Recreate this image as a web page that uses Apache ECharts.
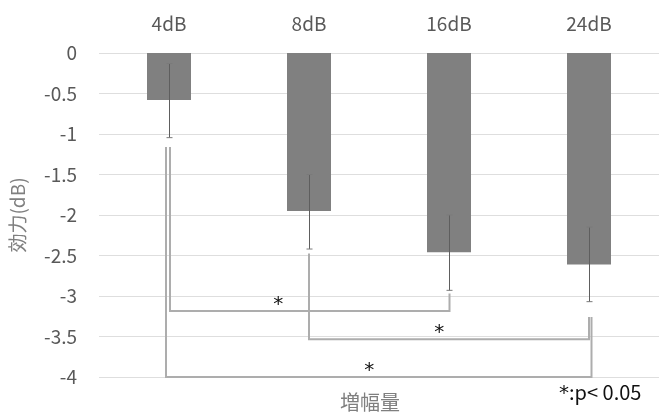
<!DOCTYPE html>
<html>
<head>
<meta charset="utf-8">
<script src="https://cdn.jsdelivr.net/npm/echarts@6/dist/echarts.min.js"></script>
<style>html,body{margin:0;padding:0;background:#fff}#c{width:659px;height:416px}</style>
</head>
<body>
<div id="c"></div>
<script>
// ---- data ----
var categories = ['4dB', '8dB', '16dB', '24dB'];
var effect = [-0.58, -1.95, -2.46, -2.61];
var errHigh = [-0.13, -1.50, -2.00, -2.15];
var errLow = [-1.045, -2.42, -2.93, -3.07];
var yTicks = [0, -0.5, -1, -1.5, -2, -2.5, -3, -3.5, -4];
// brackets: [fromIndex, toIndex, fromTopValue, levelValue, toTopValue]
var brackets = [
  [0, 2, -1.16, -3.185, -2.97],
  [1, 3, -2.475, -3.535, -3.26],
  [0, 3, -1.16, -4.0, -3.26]
];
// significance stars: [category position, value]
var stars = [
  [0.78, -3.05],
  [1.93, -3.39],
  [1.43, -3.86]
];

var FONT = '"Noto Sans CJK JP", "Noto Sans", sans-serif';
var chart = echarts.init(document.getElementById('c'));

var bracketOffsets = [[1, 0.5], [0, 0], [-3, 2.5]];

function catX(api, pos, v) {
  var a = api.coord([0, v]), b = api.coord([1, v]);
  return a[0] + pos * (b[0] - a[0]);
}

chart.setOption({
  animation: false,
  grid: { left: 99, right: -4, top: 53, bottom: 39, containLabel: false },
  xAxis: {
    type: 'category',
    position: 'top',
    data: categories,
    axisLine: { show: false },
    axisTick: { show: false },
    axisLabel: { color: '#595959', fontSize: 19, fontFamily: FONT, margin: 20 }
  },
  yAxis: {
    type: 'value',
    min: -4, max: 0, interval: 0.5,
    axisLine: { show: false },
    axisTick: { show: false },
    axisLabel: {
      color: '#595959', fontSize: 19, fontFamily: FONT, margin: 22,
      formatter: function (v) { return yTicks.indexOf(v) >= 0 ? String(v) : ''; }
    },
    splitLine: { lineStyle: { color: '#dedede', width: 1 } },
    name: '効力(dB)',
    nameLocation: 'middle',
    nameGap: 72,
    nameRotate: 90,
    nameTextStyle: { color: '#7f7f7f', fontSize: 19, fontFamily: FONT }
  },
  graphic: [
    { type: 'text', left: 340, top: 392, style: { text: '増幅量', fill: '#7f7f7f', font: '20px ' + FONT } },
    { type: 'text', left: 559, top: 382, style: {
      text: '{s|*}:p< 0.05', fill: '#111', font: '20px ' + FONT,
      rich: { s: { fontFamily: '"DejaVu Sans", sans-serif', fontSize: 20, fill: '#111', padding: [4, 0, 0, 0] } }
    } }
  ],
  series: [
    {
      type: 'bar',
      data: effect,
      barWidth: 44,
      itemStyle: { color: '#808080' },
      silent: true
    },
    {
      type: 'custom',
      silent: true,
      data: categories.map(function (c, i) { return [i, errLow[i], errHigh[i]]; }),
      renderItem: function (params, api) {
        var lo = api.coord([api.value(0), api.value(1)]);
        var hi = api.coord([api.value(0), api.value(2)]);
        var x = Math.round(lo[0]) + 0.5;
        return {
          type: 'group',
          children: [
            { type: 'line', shape: { x1: x, y1: hi[1], x2: x, y2: lo[1] }, style: { stroke: '#5e5e5e', lineWidth: 1 } },
            { type: 'line', shape: { x1: x - 3, y1: hi[1], x2: x + 3, y2: hi[1] }, style: { stroke: '#7a7a7a', lineWidth: 1 } },
            { type: 'line', shape: { x1: x - 3, y1: lo[1], x2: x + 3, y2: lo[1] }, style: { stroke: '#7a7a7a', lineWidth: 1 } }
          ]
        };
      },
      z: 3
    },
    {
      type: 'custom',
      silent: true,
      data: brackets,
      renderItem: function (params, api) {
        var i = params.dataIndex;
        var off = bracketOffsets[i];
        var f = api.value(0), t = api.value(1);
        var p1 = api.coord([f, api.value(2)]);
        var p2 = api.coord([f, api.value(3)]);
        var p3 = api.coord([t, api.value(3)]);
        var p4 = api.coord([t, api.value(4)]);
        var fx = p1[0] + off[0], tx = p3[0] + off[1];
        return {
          type: 'polyline',
          shape: { points: [[fx, p1[1]], [fx, p2[1]], [tx, p3[1]], [tx, p4[1]]] },
          style: { stroke: '#adadad', lineWidth: 2, fill: null, lineJoin: 'miter' }
        };
      },
      z: 4
    },
    {
      type: 'custom',
      silent: true,
      data: stars,
      renderItem: function (params, api) {
        var v = api.value(1);
        var x = catX(api, api.value(0), v);
        var y = api.coord([0, v])[1];
        return {
          type: 'text',
          x: x, y: y + 5,
          style: { text: '*', fill: '#111', font: '20px "DejaVu Sans", sans-serif', align: 'center', verticalAlign: 'middle' }
        };
      },
      z: 5
    }
  ]
});
</script>
</body>
</html>
